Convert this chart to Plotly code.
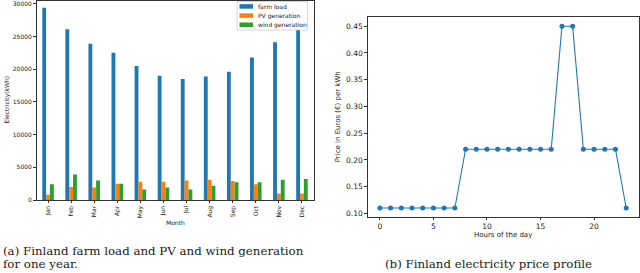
import plotly.graph_objects as go

months = ["Jan", "Feb", "Mar", "Apr", "May", "Jun", "Jul", "Aug", "Sep", "Oct", "Nov", "Dec"]
farm_load = [29400, 26100, 23900, 22500, 20500, 19000, 18500, 18900, 19600, 21800, 24100, 26200]
pv_generation = [800, 2000, 1900, 2500, 2800, 2800, 3000, 3100, 2900, 2400, 1000, 1000]
wind_generation = [2400, 3900, 3000, 2500, 1600, 1900, 1600, 2200, 2700, 2700, 3100, 3200]

hours = list(range(24))
price = [0.11] * 8 + [0.22] * 9 + [0.45, 0.45] + [0.22] * 4 + [0.11]

W, H = 640, 273
def px(x):
    return x / W
def py(y):
    return 1 - y / H

fig = go.Figure()
cols = ["#1f77b4", "#ff7f0e", "#2ca02c"]
names = ["farm load", "PV generation", "wind generation"]
for vals, c, n in zip([farm_load, pv_generation, wind_generation], cols, names):
    fig.add_trace(go.Bar(x=months, y=vals, name=n, marker=dict(color=c, line=dict(width=0)),
                         xaxis="x", yaxis="y", showlegend=False))

fig.add_trace(go.Scatter(x=hours, y=price, mode="lines+markers", showlegend=False,
                         line=dict(color="#1f77b4", width=1.1),
                         marker=dict(color="#1f77b4", size=5),
                         xaxis="x2", yaxis="y2"))

axcommon = dict(showline=True, mirror=True, linecolor="#333", linewidth=0.8,
                showgrid=False, zeroline=False, ticks="outside", ticklen=2.5,
                tickcolor="#333", tickwidth=0.7, ticklabeloverflow="allow")

fig.update_layout(
    width=W, height=H, margin=dict(l=0, r=0, t=0, b=0),
    paper_bgcolor="white", plot_bgcolor="white",
    font=dict(family="DejaVu Sans", color="#222"),
    barmode="group", bargap=0.5, bargroupgap=0,
    showlegend=False,
    xaxis=dict(domain=[px(36.5), px(313.5)], anchor="y", tickangle=-90,
               tickfont=dict(size=6), **axcommon),
    yaxis=dict(domain=[py(202), 1], anchor="x", range=[0, 30420],
               tickvals=[0, 5000, 10000, 15000, 20000, 25000, 30000],
               ticktext=["0", "5000", "10000", "15000", "20000", "25000", "30000"],
               tickfont=dict(size=6), **axcommon),
    xaxis2=dict(domain=[px(367.6), px(638.5)], anchor="y2", range=[-1.15, 24.15],
                tickvals=[0, 5, 10, 15, 20], tickfont=dict(size=7.5), **axcommon),
    yaxis2=dict(domain=[py(219), py(16)], anchor="x2", range=[0.0935, 0.4678],
                tickvals=[0.10, 0.15, 0.20, 0.25, 0.30, 0.35, 0.40, 0.45],
                ticktext=["0.10", "0.15", "0.20", "0.25", "0.30", "0.35", "0.40", "0.45"],
                tickfont=dict(size=7.5), **axcommon),
)

# compact legend drawn in matplotlib style
shapes = [dict(type="rect", xref="paper", yref="paper",
               x0=px(237), x1=px(307.5), y0=py(29.5), y1=py(0.5),
               line=dict(color="#ccc", width=0.8), fillcolor="rgba(255,255,255,0.85)", layer="above")]
ann = []
for i, (c, n) in enumerate(zip(cols, names)):
    yc = 5.5 + 9.3 * i
    shapes.append(dict(type="rect", xref="paper", yref="paper",
                       x0=px(239.5), x1=px(253), y0=py(yc + 2.3), y1=py(yc - 2.3),
                       line=dict(width=0), fillcolor=c, layer="above"))
    ann.append(dict(text=n, x=px(256), y=py(yc), xanchor="left",
                    font=dict(size=6, color="#222")))

serif = "DejaVu Serif"
ann += [
    dict(text="Month", x=px(175), y=py(225), font=dict(size=6, color="#222")),
    dict(text="Electricity(kWh)", x=px(7), y=py(100), textangle=-90, font=dict(size=6, color="#222")),
    dict(text="Hours of the day", x=px(503), y=py(237), font=dict(size=7, color="#222")),
    dict(text="Price in Euros (€) per kWh", x=px(338), y=py(118), textangle=-90,
         font=dict(size=7, color="#222")),
    dict(text="(a) Finland farm load and PV and wind generation", x=px(1), y=py(254),
         xanchor="left", font=dict(size=11.8, family=serif, color="#1a1a1a")),
    dict(text="for one year.", x=px(1), y=py(266.5),
         xanchor="left", font=dict(size=11.8, family=serif, color="#1a1a1a")),
    dict(text="(b) Finland electricity price profile", x=px(383), y=py(266.5),
         xanchor="left", font=dict(size=11.8, family=serif, color="#1a1a1a")),
]
for a in ann:
    a.update(xref="paper", yref="paper", showarrow=False)
    a.setdefault("xanchor", "center")
    a["yanchor"] = "middle"
fig.update_layout(annotations=ann, shapes=shapes)

fig.write_html("out.html", config={"displayModeBar": False},
               post_script="document.body.style.margin='0';document.body.style.overflow='hidden';")
